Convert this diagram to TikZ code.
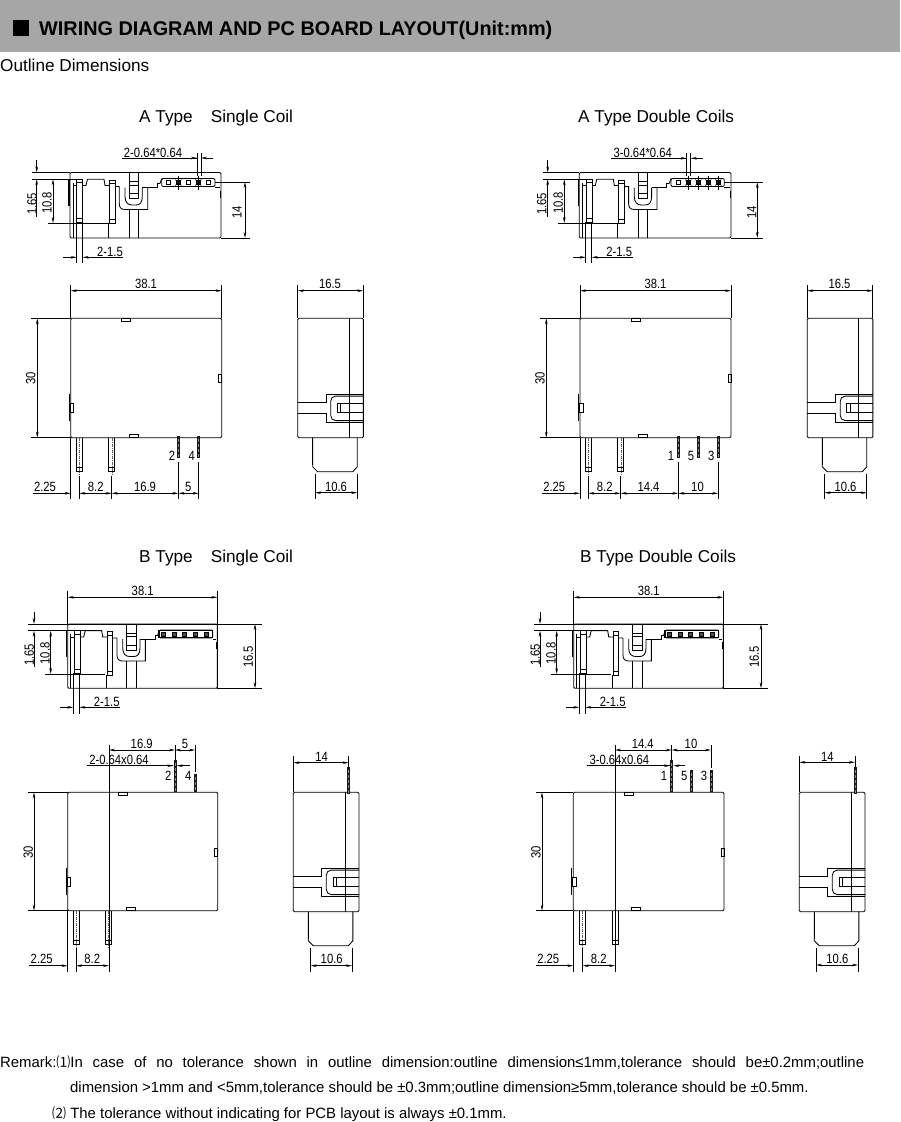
\documentclass[tikz,border=0pt]{standalone}
\usepackage{fontspec}
\setmainfont{Liberation Sans}
\newfontfamily\cjkf{Noto Sans CJK SC}
\newfontfamily\dimf[FakeStretch=0.84]{Liberation Sans}
\usetikzlibrary{arrows.meta}
\definecolor{hdr}{HTML}{A6A6A6}
\newcount\nn
\newcommand\lab[3]{\global\advance\nn by 1 \node[dimtxt] (n\the\nn) at (#1,#2) {#3};}
\newcommand\labv[3]{\global\advance\nn by 1 \node[dimtxt,rotate=90] (n\the\nn) at (#1,#2) {#3};}
\newcommand\dimx[3]{\draw[dimline] (#1,#3) -- (#2,#3);}
\newcommand\dimy[3]{\draw[dimline] (#3,#1) -- (#3,#2);}
\newcommand\vt[3]{\draw[extline] (#1,#2) -- (#1,#3);}
\newcommand\hl[3]{\draw[extline] (#1,#3) -- (#2,#3);}
% top (plan) view: x0,y0,w,h
\newcommand\topv[4]{\begin{scope}[shift={(#1,#2)}]
 \def\W{#3}\def\H{#4}
 \draw[body,rounded corners=1.2pt] (0,0) -- (\W,0) -- (\W,\H) -- (0,\H) -- cycle;
 \draw[body,line width=1.5pt] (-1,6) -- (-1,33);
 \draw[extline] (3,10) -- (3,\H);
 \draw[body] (3,13) -- (6.7,13);
 \draw[body] (12.7,13) -- (16,13) -- (17.5,6.7) -- (34,6.7) -- (35,13) -- (39.3,13);
 \draw[body] (6.7,6.7) rectangle (12.7,49.5);
 \draw[extline] (6.7,10) -- (12.7,10) (6.7,45.5) -- (12.7,45.5);
 \draw[body] (39.3,7.7) rectangle (45,51);
 \draw[extline] (39.3,11) -- (45,11) (39.3,47) -- (45,47);
 \draw[body,line width=1.2pt] (38.5,51) -- (38.5,\H);
 \draw[body] (45,14) -- (49.3,14) -- (49.3,31) .. controls (49.3,35) and (51,37) .. (55,37) -- (77.7,37) -- (77.7,15);
 \draw[body] (55,15) -- (55,24) .. controls (55,30) and (58,32.5) .. (62,32.5) -- (66,32.5) .. controls (70,32.5) and (72.3,30) .. (72.3,24) -- (72.3,15);
 \draw[body] (59,37) -- (59,\H) (68.3,37) -- (68.3,\H);
 \draw[body] (59,0) -- (59,26) -- (68.3,26) -- (68.3,0);
 \draw[extline] (59,9) -- (68.3,9);
 \draw[body] (59,12.7) -- (68.3,12.7) (59,21) -- (68.3,21);
 \draw[body] (72.3,15) -- (87.5,15) -- (87.5,11) -- (90,11);
 \draw[body,rounded corners=1.2pt] (91.7,6) rectangle (145,14);
 \draw[body] (145,15) -- (\W-1,15);
 \draw[body] (\W-1,18) -- (\W-1,25);
 \draw[body] (90,11) -- (91.7,6);
\end{scope}}
% connector cell marks
\newcommand\csq[2]{\draw[extline,fill=white] (#1-2,#2-2) rectangle (#1+2,#2+2);}
\newcommand\cdk[2]{\draw[extline,fill=black!70] (#1-2,#2-2) rectangle (#1+2,#2+2);}
\newcommand\cstar[2]{\draw[extline,fill=black!80] (#1-2,#2-2) rectangle (#1+2,#2+2);
 \draw[extline] (#1-3,#2-3) -- (#1+3,#2+3) (#1-3,#2+3) -- (#1+3,#2-3);
 \draw[extline] (#1,#2-7) -- (#1,#2+7);}
% front view: x0,y0,w,h
\newcommand\mainv[4]{\begin{scope}[shift={(#1,#2)}]
 \def\W{#3}\def\H{#4}
 \draw[body,rounded corners=1.2pt] (\W,0) -- (\W,\H) -- (0,\H) -- (0,0) -- cycle;
 \draw[body] (51,0) rectangle (60,3.5);
 \draw[body] (58.6,\H-3.5) rectangle (67.6,\H);
 \draw[body] (\W-3,55.7) rectangle (\W,64.4);
 \draw[body,line width=1.1pt] (-1.6,75.7) -- (-1.6,102.7);
 \draw[body,fill=white] (-0.6,85) rectangle (3.2,94);
 \end{scope}}
% big pin: centre, edge, end
\newcommand\bigpin[3]{\draw[body] (#1-3,#2) -- (#1-3,#3) -- (#1+3,#3) -- (#1+3,#2);
 \draw[extline] (#1-3,#3-4) -- (#1+3,#3-4);
 \draw[extline,dash pattern=on 3pt off 1pt on 1pt off 1pt,draw=black!60] (#1,#2) -- (#1,#3+3);}
\newcommand\smallpin[3]{\draw[line width=3pt,draw=black!90] (#1,#2) -- (#1,#3);
 \draw[line width=.7pt,draw=black!45,dash pattern=on 3pt off 2pt] (#1,#2+3) -- (#1,#3);}
% side view x0,y0
\newcommand\sidev[2]{\begin{scope}[shift={(#1,#2)}]
 \draw[body,rounded corners=1.2pt] (0,0) -- (65.7,0) -- (65.7,119.4) -- (0,119.4) -- cycle;
 \draw[body] (51.7,0) -- (51.7,119.4);
 \draw[body] (0,84) -- (28.3,84) -- (28.3,75.7) -- (65.7,75.7);
 \draw[body] (0,95) -- (28.3,95) -- (28.3,104.3) -- (65.7,104.3);
 \draw[body] (65.7,77.8) -- (38,77.8) .. controls (35,77.8) and (33,80) .. (33,83) -- (33,97) .. controls (33,100) and (35,102.3) .. (38,102.3) -- (65.7,102.3);
 \draw[body] (39.7,85) rectangle (51.7,94);
 \draw[body,line width=1.1pt] (43,85) -- (43,94);
 \draw[extline] (51.7,85) -- (65.7,85) (51.7,94) -- (65.7,94);
 \draw[body] (15,119.4) -- (15,148.5) -- (20,153.5) -- (55,153.5) -- (59.6,148.5) -- (59.6,119.4);
 \draw[body,line width=1.2pt] (15,119.4) -- (15,147);
 \end{scope}}
\begin{document}
\begin{tikzpicture}[x=1pt,y=-1pt,
 body/.style={line width=.85pt,draw=black},
 extline/.style={line width=.65pt,draw=black},
 dimline/.style={line width=.65pt,draw=black,{Stealth[length=6pt,width=2.6pt]}-{Stealth[length=6pt,width=2.6pt]}},
 toarrow/.style={line width=.65pt,draw=black,-{Stealth[length=6pt,width=2.6pt]}},
 dimtxt/.style={inner sep=0pt,font=\dimf\fontsize{13.4}{15}\selectfont,text=black},
 titletxt/.style={inner sep=0pt,font=\fontsize{17.2}{19}\selectfont,text=black},
 remark/.style={inner sep=0pt,anchor=base west,font=\fontsize{14.9}{17}\selectfont}]
\useasboundingbox (0,0) rectangle (900,1122);
% header
\node[fill=hdr,minimum width=900pt,minimum height=51.5pt,inner sep=0pt,anchor=north west] (bar) at (0,0) {};
\node[fill=black,minimum width=16pt,minimum height=16pt,inner sep=0pt] (sq) at (20.5,27.5) {};
\node[inner sep=0pt,anchor=base west,font=\bfseries\fontsize{19.85}{22}\selectfont] (head) at (39,35) {WIRING DIAGRAM AND PC BOARD LAYOUT(Unit:mm)};
\node[inner sep=0pt,anchor=base west,font=\fontsize{17.2}{19}\selectfont,text=black] (outl) at (0,71) {Outline Dimensions};
% titles
\node[titletxt,anchor=base west] (ta1) at (139,122.5) {A Type\hspace{1.05em}Single Coil};
\node[titletxt,anchor=base west] (ta2) at (578,122.5) {A Type Double Coils};
\node[titletxt,anchor=base west] (tb1) at (139,562) {B Type\hspace{1.05em}Single Coil};
\node[titletxt,anchor=base west] (tb2) at (580,562) {B Type Double Coils};

%%%%%%%%%% A single top
\topv{70}{172.5}{151}{65.5}
\csq{168.3}{182.5}\cstar{178.3}{182.5}\csq{188.3}{182.5}\cstar{198.3}{182.5}\csq{208.3}{182.5}
\lab{153}{152.5}{2-0.64*0.64}
\hl{122}{197}{158}\draw[toarrow] (180,158) -- (197,158);\draw[toarrow] (213,158) -- (201,158);
\vt{197}{153}{176}\vt{201}{153}{176}
\hl{32}{70}{172.5}\hl{32}{77}{179.2}
\draw[toarrow] (36.7,160) -- (36.7,172.5);\draw[toarrow] (36.7,217) -- (36.7,179.2);
\labv{32}{204}{1.65}
\dimy{179.2}{223}{53}\labv{47}{203}{10.8}
\hl{48}{115}{223}
\dimy{182}{238}{245}\labv{237}{212}{14}
\hl{215}{250}{182}\hl{221}{250}{238}
\lab{110}{251.7}{2-1.5}
\draw[toarrow] (63.3,257.3) -- (76.7,257.3);\draw[toarrow] (123.3,257.3) -- (82.7,257.3);
\vt{76.7}{222}{263.3}\vt{82.7}{222}{263.3}
%%%%%%%%%% A single front
\mainv{70.7}{318.3}{151}{119.4}
\bigpin{79.5}{437.7}{471.7}\bigpin{111.9}{437.7}{471.7}
\smallpin{178.5}{436}{458}\smallpin{198.7}{436}{458}
\dimx{70.7}{221.7}{290.7}\lab{146}{284.3}{38.1}
\vt{70.7}{285}{318.3}\vt{221.7}{285}{318.3}
\dimy{318.3}{437.7}{37.3}\labv{30.7}{378.3}{30}
\hl{31}{70.7}{318.3}\hl{31}{70.7}{437.7}
\vt{70.7}{437.7}{499.3}\vt{79.3}{476}{499.3}\vt{111.7}{476}{499.3}\vt{178.5}{461.7}{499.3}\vt{198.7}{461.7}{499.3}
\draw[toarrow] (32.7,493.3) -- (70.7,493.3);
\dimx{79.3}{111.7}{493.3}\dimx{111.7}{178.5}{493.3}\dimx{178.5}{198.7}{493.3}
\lab{45}{487.3}{2.25}\lab{95.7}{487.3}{8.2}\lab{145}{487.3}{16.9}\lab{188.3}{487.3}{5}
\lab{172}{455.7}{2}\lab{191.7}{455.7}{4}
%%%%%%%%%% A single side
\sidev{297.7}{318.3}
\dimx{297.7}{363.3}{290.7}\lab{330}{284.3}{16.5}
\vt{297.7}{285}{318.3}\vt{363.3}{285}{318.3}
\dimx{315}{357.3}{492.7}\lab{336}{486.7}{10.6}
\vt{315}{474}{499}\vt{357.3}{474}{499}

%%%%%%%%%% A double top
\topv{579.3}{172.5}{151.7}{65.5}
\csq{678.3}{182.5}\cstar{688.3}{182.5}\cstar{698.3}{182.5}\cstar{708.3}{182.5}\cstar{718.3}{182.5}
\lab{642.7}{152.7}{3-0.64*0.64}
\hl{611}{686.7}{158.3}\draw[toarrow] (670,158.3) -- (686.7,158.3);\draw[toarrow] (702.7,158.3) -- (690.7,158.3);
\vt{686.7}{153}{176}\vt{690.7}{153}{176}
\hl{542.7}{579.3}{172.5}\hl{542.7}{586}{179.2}
\draw[toarrow] (547.7,160) -- (547.7,172.5);\draw[toarrow] (547.7,217) -- (547.7,179.2);
\labv{541.7}{204}{1.65}
\dimy{179.2}{223}{564.3}\labv{558.3}{203}{10.8}
\hl{558}{625}{223}
\dimy{182}{238}{757.3}\labv{751.7}{212}{14}
\hl{724}{763.3}{182}\hl{731}{763.3}{238}
\lab{619.3}{251.7}{2-1.5}
\draw[toarrow] (573.3,257.3) -- (585.7,257.3);\draw[toarrow] (633.3,257.3) -- (591.7,257.3);
\vt{585.7}{222}{263.3}\vt{591.7}{222}{263.3}
%%%%%%%%%% A double front
\mainv{580}{318.3}{151}{119.4}
\bigpin{588.5}{437.7}{471.7}\bigpin{620.9}{437.7}{471.7}
\smallpin{678.3}{436}{458}\smallpin{698.3}{436}{458}\smallpin{718.3}{436}{458}
\dimx{580}{731}{290.7}\lab{655.5}{284.3}{38.1}
\vt{580}{285}{318.3}\vt{731}{285}{318.3}
\dimy{318.3}{437.7}{546.3}\labv{540}{378.3}{30}
\hl{540}{580}{318.3}\hl{540}{580}{437.7}
\vt{580}{437.7}{499.3}\vt{588.3}{476}{499.3}\vt{620.7}{476}{499.3}\vt{678.3}{461.7}{499.3}\vt{718.3}{461.7}{499.3}
\draw[toarrow] (541.7,493.3) -- (580,493.3);
\dimx{588.3}{620.7}{493.3}\dimx{620.7}{678.3}{493.3}\dimx{678.3}{718.3}{493.3}
\lab{554.3}{487.3}{2.25}\lab{604.7}{487.3}{8.2}\lab{648.5}{487.3}{14.4}\lab{697.5}{487.3}{10}
\lab{671}{455.7}{1}\lab{691}{455.7}{5}\lab{711.3}{455.7}{3}
%%%%%%%%%% A double side
\sidev{807.2}{318.3}
\dimx{807.2}{872.8}{290.7}\lab{839.5}{284.3}{16.5}
\vt{807.2}{285}{318.3}\vt{872.8}{285}{318.3}
\dimx{824.5}{866.8}{492.7}\lab{845.5}{486.7}{10.6}
\vt{824.5}{474}{499}\vt{866.8}{474}{499}

%%%%%%%%%% B single top
\topv{67.7}{624}{149.7}{64.3}
\draw[extline] (158.5,630) rectangle (212.5,637.5);
\foreach \i in {163,174,184,195,206}{\cdk{\i}{634}}
\dimx{67.7}{217.4}{597.3}\lab{142.7}{590.7}{38.1}
\vt{67.7}{590.7}{624}\vt{217.4}{590.7}{688}
\hl{28.3}{261.7}{624}\hl{28.3}{102}{630.7}
\draw[toarrow] (34,611.7) -- (34,624);\draw[toarrow] (34,666.7) -- (34,630.7);
\labv{29.3}{655}{1.65}
\dimy{630.7}{674}{50.7}\labv{45}{653.3}{10.8}
\hl{45}{105}{674}
\dimy{624}{688.3}{255}\labv{248.3}{656.7}{16.5}
\hl{217}{261.7}{688.3}
\lab{106.7}{702.3}{2-1.5}
\draw[toarrow] (60,707.3) -- (73.3,707.3);\draw[toarrow] (120,707.3) -- (79.3,707.3);
\vt{73.3}{673}{714}\vt{79.3}{673}{714}
%%%%%%%%%% B single front
\mainv{67.7}{792.3}{150}{118.4}
\bigpin{76.2}{910.7}{944.3}\bigpin{108.5}{910.7}{944.3}
\smallpin{175}{760}{792.3}\smallpin{195}{774.3}{792.3}
\vt{109}{745}{971.7}\vt{67.7}{910.7}{971.7}\vt{76}{948}{971.7}\vt{175}{745}{760}\vt{195}{745}{772}
\dimx{109}{175}{750}\dimx{175}{195}{750}
\lab{141.7}{744}{16.9}\lab{185}{744}{5}
\lab{119}{760}{2-0.64x0.64}
\hl{86.7}{173}{765.7}\draw[toarrow] (160,765.7) -- (173.3,765.7);\draw[toarrow] (190,765.7) -- (176.7,765.7);
\lab{168.3}{775.7}{2}\lab{188.3}{775.7}{4}
\dimy{792.3}{910.7}{34}\labv{28.3}{852.3}{30}
\hl{28.3}{67.7}{792.3}\hl{28.3}{67.7}{910.7}
\draw[toarrow] (29.3,965.7) -- (67.7,965.7);\dimx{76}{109}{965.7}
\lab{41.7}{959.3}{2.25}\lab{92.3}{959.3}{8.2}
%%%%%%%%%% B single side
\sidev{293.3}{792.3}
\smallpin{348.7}{767}{794}
\dimx{293.3}{348.7}{762.7}\lab{321.7}{756.7}{14}
\vt{293.3}{756}{792.3}\vt{348.7}{756}{767}
\dimx{310.7}{352}{965.7}\lab{331.7}{959.3}{10.6}
\vt{310.7}{948}{971.7}\vt{352}{948}{971.7}

%%%%%%%%%% B double top
\topv{573.7}{624}{149.7}{64.3}
\draw[extline] (664.5,630) rectangle (718.5,637.5);
\foreach \i in {669,680,690,701,712}{\cdk{\i}{634}}
\dimx{573.7}{723.4}{597.3}\lab{648.7}{590.7}{38.1}
\vt{573.7}{590.7}{624}\vt{723.4}{590.7}{688}
\hl{534.3}{767.7}{624}\hl{534.3}{608}{630.7}
\draw[toarrow] (540,611.7) -- (540,624);\draw[toarrow] (540,666.7) -- (540,630.7);
\labv{535.3}{655}{1.65}
\dimy{630.7}{674}{556.7}\labv{551}{653.3}{10.8}
\hl{551}{611}{674}
\dimy{624}{688.3}{761}\labv{754.3}{656.7}{16.5}
\hl{723}{767.7}{688.3}
\lab{612.7}{702.3}{2-1.5}
\draw[toarrow] (566,707.3) -- (579.3,707.3);\draw[toarrow] (626,707.3) -- (585.3,707.3);
\vt{579.3}{673}{714}\vt{585.3}{673}{714}
%%%%%%%%%% B double front
\mainv{573.3}{792.3}{150.7}{118.4}
\bigpin{582.8}{910.7}{944.3}\bigpin{615}{910.7}{944.3}
\smallpin{671.7}{760}{792.3}\smallpin{691.3}{770}{792.3}\smallpin{711}{770}{792.3}
\vt{615}{745}{971.7}\vt{573.3}{910.7}{971.7}\vt{582.7}{948}{971.7}\vt{671.7}{745}{760}\vt{711}{745}{768}
\dimx{615}{671.7}{750}\dimx{671.7}{711}{750}
\lab{642.7}{744}{14.4}\lab{691}{744}{10}
\lab{619.3}{760}{3-0.64x0.64}
\hl{586.7}{670}{765.7}\draw[toarrow] (655,765.7) -- (670,765.7);\draw[toarrow] (685,765.7) -- (673.3,765.7);
\lab{664}{775.7}{1}\lab{684.3}{775.7}{5}\lab{704}{775.7}{3}
\dimy{792.3}{910.7}{542}\labv{536}{852.3}{30}
\hl{536}{573.3}{792.3}\hl{536}{573.3}{910.7}
\draw[toarrow] (536,965.7) -- (573.3,965.7);\dimx{582.7}{615}{965.7}
\lab{548.3}{959.3}{2.25}\lab{598.7}{959.3}{8.2}
%%%%%%%%%% B double side
\sidev{799.3}{792.3}
\smallpin{855}{767}{794}
\dimx{799.3}{855}{762.3}\lab{827.3}{756.7}{14}
\vt{799.3}{756}{792.3}\vt{855}{756}{767}
\dimx{816}{858}{965}\lab{837.3}{959.3}{10.6}
\vt{816}{948}{971.7}\vt{858}{948}{971.7}

%%%%%%%%%% remarks
\node[remark] (r1) at (0,1067) {\makebox[864pt][s]{Remark:{\cjkf\fontsize{14}{16}\selectfont ⑴}In case of no tolerance shown in outline dimension:outline dimension≤1mm,tolerance should be±0.2mm;outline}};
\node[remark] (r2) at (70,1092.5) {dimension >1mm and <5mm,tolerance should be ±0.3mm;outline dimension≥5mm,tolerance should be ±0.5mm.};
\node[remark] (r3) at (52,1118) {{\cjkf\fontsize{14}{16}\selectfont ⑵} The tolerance without indicating for PCB layout is always ±0.1mm.};
\end{tikzpicture}
\end{document}
